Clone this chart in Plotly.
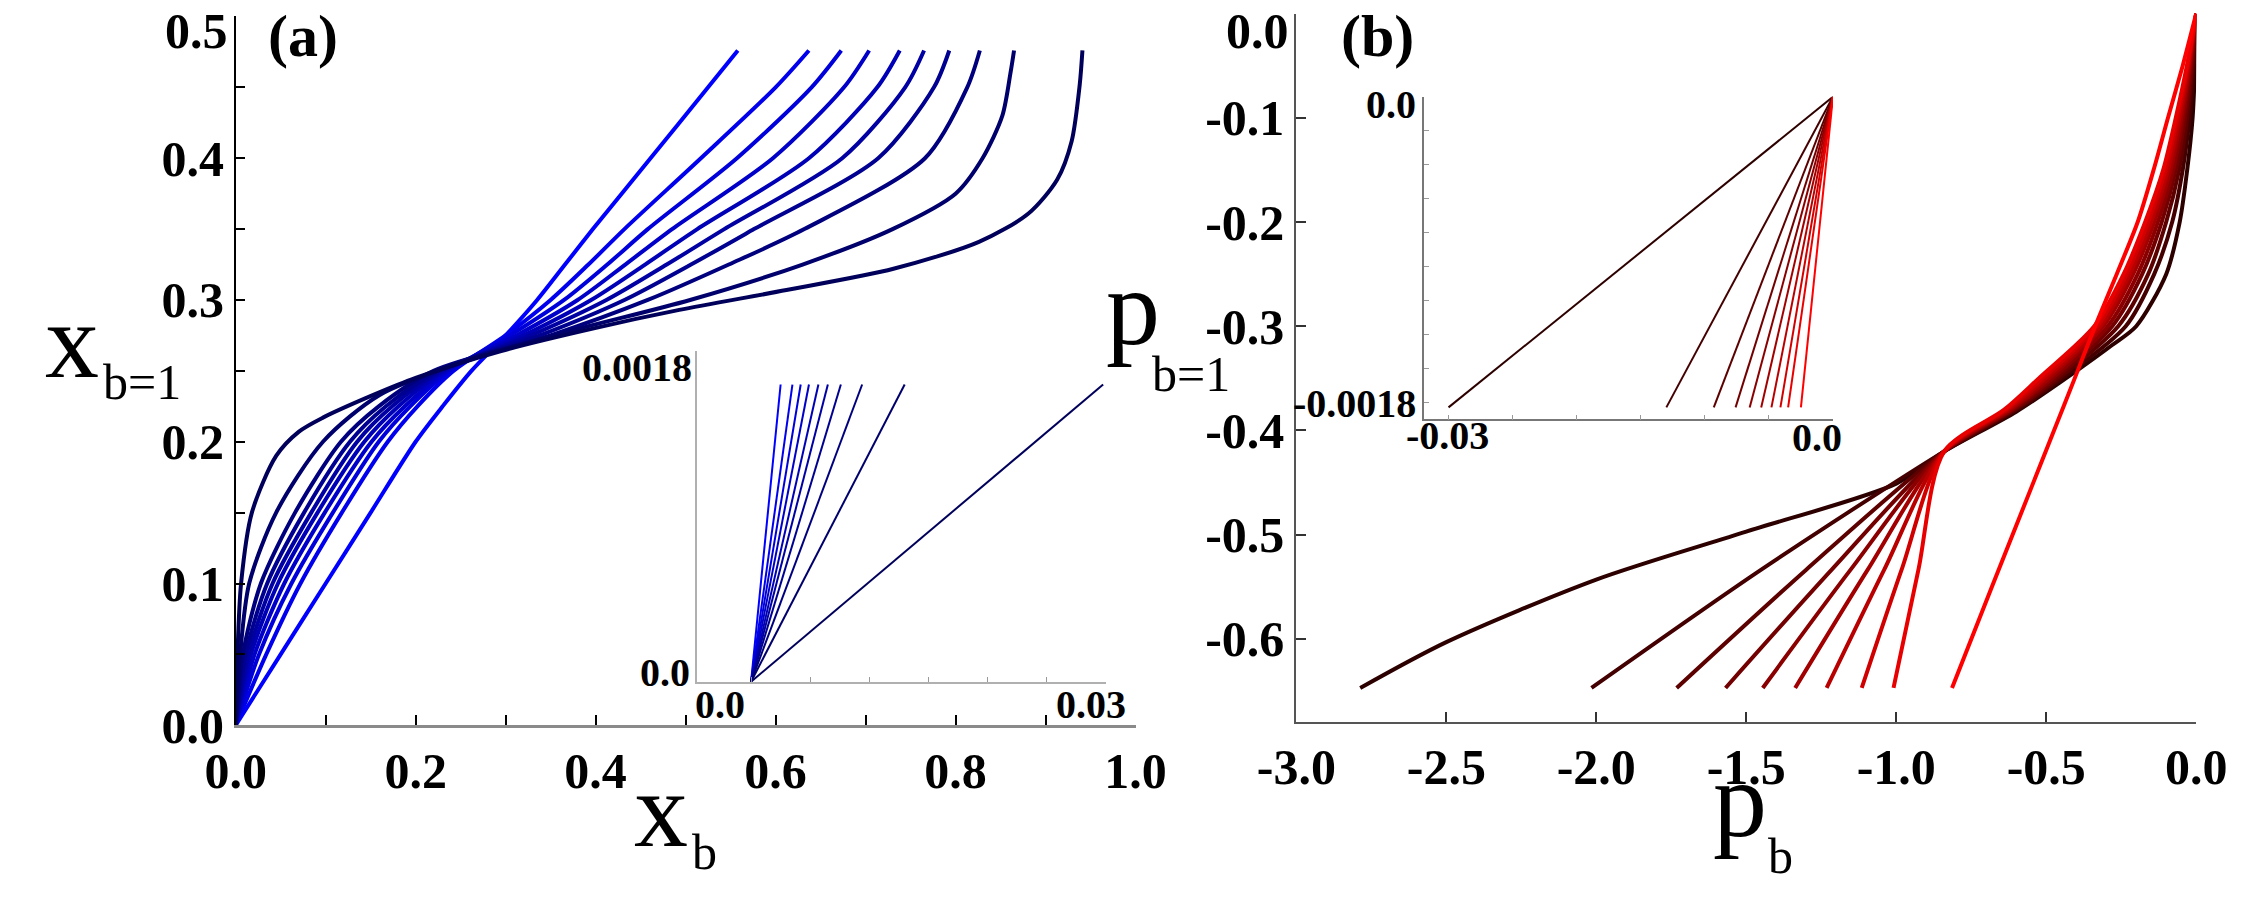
import plotly.graph_objects as go

# ================= DATA =================
# Panel (a): x_{b=1} versus x_b  (k0 = bright blue ... k9 = navy)
a_k0_x = [0, 0.050, 0.100, 0.150, 0.200, 0.230, 0.262, 0.300, 0.335, 0.366, 0.397, 0.461, 0.525, 0.558]
a_k1_x = [0, 0.034, 0.072, 0.118, 0.169, 0.202, 0.242, 0.300, 0.350, 0.392, 0.432, 0.517, 0.600, 0.637]
a_k2_x = [0, 0.026, 0.062, 0.108, 0.159, 0.194, 0.238, 0.305, 0.365, 0.413, 0.458, 0.557, 0.640, 0.673]
a_k3_x = [0, 0.021, 0.054, 0.099, 0.151, 0.188, 0.235, 0.312, 0.380, 0.433, 0.485, 0.597, 0.676, 0.704]
a_k4_x = [0, 0.017, 0.047, 0.091, 0.143, 0.181, 0.232, 0.320, 0.395, 0.455, 0.513, 0.637, 0.713, 0.738]
a_k5_x = [0, 0.014, 0.041, 0.084, 0.135, 0.174, 0.229, 0.328, 0.412, 0.479, 0.543, 0.674, 0.744, 0.765]
a_k6_x = [0, 0.011, 0.035, 0.076, 0.127, 0.167, 0.225, 0.338, 0.432, 0.506, 0.576, 0.714, 0.776, 0.793]
a_k7_x = [0, 0.008, 0.028, 0.066, 0.117, 0.159, 0.220, 0.350, 0.458, 0.548, 0.632, 0.766, 0.813, 0.827]
a_common_y = [0, 0.05, 0.1, 0.15, 0.2, 0.225, 0.25, 0.275, 0.3, 0.325, 0.35, 0.4, 0.45, 0.476]

a_k8_x = [0, 0.005, 0.015, 0.045, 0.097, 0.160, 0.256, 0.365, 0.505, 0.630, 0.730, 0.800, 0.830, 0.852, 0.861, 0.865]
a_k8_y = [0, 0.05, 0.1, 0.15, 0.2, 0.233, 0.257, 0.277, 0.3, 0.325, 0.35, 0.375, 0.4, 0.43, 0.46, 0.476]

a_k9_x = [0, 0.002, 0.006, 0.018, 0.045, 0.070, 0.097, 0.153, 0.200, 0.295, 0.398, 0.493, 0.612, 0.731,
          0.826, 0.881, 0.913, 0.929, 0.938, 0.941]
a_k9_y = [0, 0.05, 0.1, 0.15, 0.19, 0.207, 0.217, 0.233, 0.245, 0.264, 0.280, 0.293, 0.307, 0.322,
          0.341, 0.361, 0.385, 0.412, 0.452, 0.476]

# Inset (a): straight lines from the origin up to y = 0.0018
inset_a_end_x = [0.0025, 0.0035, 0.0042, 0.0049, 0.0057, 0.0065, 0.0076, 0.0094, 0.0130, 0.0298]
inset_a_top_y = 0.0018

# Panel (b): p_{b=1} versus p_b  (j0 = darkest ... j9 = red)
b_j0_x = [-2.787, -2.5, -2.0, -1.5, -1.0, -0.84, -0.6, -0.4, -0.28, -0.2, -0.1, -0.055, -0.03, -0.012, -0.004, 0]
b_j0_y = [-0.647, -0.603, -0.543, -0.497, -0.451, -0.42, -0.382, -0.343, -0.318, -0.3, -0.25, -0.2, -0.15, -0.1, -0.05, 0]
b_j1_x = [-2.016, -1.45, -0.84, -0.596, -0.447, -0.235, -0.140, -0.080, -0.045, -0.022, -0.008, 0]
b_j2_x = [-1.732, -1.30, -0.84, -0.603, -0.458, -0.260, -0.160, -0.100, -0.057, -0.030, -0.012, 0]
b_j3_x = [-1.569, -1.215, -0.84, -0.609, -0.469, -0.280, -0.180, -0.115, -0.068, -0.037, -0.015, 0]
b_j4_x = [-1.445, -1.152, -0.84, -0.615, -0.480, -0.295, -0.195, -0.128, -0.077, -0.044, -0.019, 0]
b_j5_x = [-1.337, -1.095, -0.84, -0.621, -0.491, -0.310, -0.210, -0.140, -0.086, -0.050, -0.022, 0]
b_j6_x = [-1.232, -1.040, -0.84, -0.628, -0.502, -0.320, -0.222, -0.150, -0.094, -0.056, -0.025, 0]
b_j7_x = [-1.115, -0.982, -0.84, -0.634, -0.513, -0.330, -0.232, -0.160, -0.102, -0.062, -0.028, 0]
b_j8_x = [-1.009, -0.926, -0.84, -0.640, -0.525, -0.340, -0.242, -0.170, -0.110, -0.068, -0.031, 0]
b_bundle_y = [-0.647, -0.5335, -0.42, -0.38, -0.35, -0.3, -0.25, -0.2, -0.15, -0.1, -0.05, 0]
b_j9_x = [-0.814, -0.681, -0.543, -0.474, -0.405, -0.337, -0.265, -0.195, -0.142, -0.094, -0.045, 0]
b_j9_y = [-0.647, -0.55, -0.45, -0.4, -0.35, -0.3, -0.25, -0.2, -0.15, -0.1, -0.05, 0]

# Inset (b): straight lines from the origin down to y = -0.00183
inset_b_end_x = [-0.0300, -0.0130, -0.0093, -0.0076, -0.0065, -0.0056, -0.0048, -0.0041, -0.0035, -0.0025]
inset_b_bottom_y = -0.00183

# Tick labels
a_x_ticks = [0, 0.1, 0.2, 0.3, 0.4, 0.5, 0.6, 0.7, 0.8, 0.9, 1.0]
a_x_ticktext = ["0.0", "", "0.2", "", "0.4", "", "0.6", "", "0.8", "", "1.0"]
a_y_ticks = [0, 0.05, 0.1, 0.15, 0.2, 0.25, 0.3, 0.35, 0.4, 0.45, 0.5]
a_y_ticktext = ["0.0", "", "0.1", "", "0.2", "", "0.3", "", "0.4", "", ""]
b_x_ticks = [-3.0, -2.5, -2.0, -1.5, -1.0, -0.5, 0.0]
b_x_ticktext = ["-3.0", "-2.5", "-2.0", "-1.5", "-1.0", "-0.5", "0.0"]
b_y_ticks = [0.0, -0.1, -0.2, -0.3, -0.4, -0.5, -0.6]
b_y_ticktext = ["", "-0.1", "-0.2", "-0.3", "-0.4", "-0.5", "-0.6"]
ia_x_ticks = [0, 0.005, 0.01, 0.015, 0.02, 0.025, 0.03]
ib_x_ticks = [-0.03, -0.025, -0.02, -0.015, -0.01, -0.005, 0]
ib_y_ticks = [0, -0.0002, -0.0004, -0.0006, -0.0008, -0.001, -0.0012, -0.0014, -0.0016, -0.0018]

# ================= STYLE =================
W, H = 2264, 915
FONT = "Liberation Serif"


def blue(k):
    b = round(255 - k * (255 - 90) / 9)
    return f"rgb(0,0,{b})"


def red(j):
    r = round(45 + j * (255 - 45) / 9)
    return f"rgb({r},0,0)"


fig = go.Figure()

a_curves = [(a_k0_x, a_common_y), (a_k1_x, a_common_y), (a_k2_x, a_common_y), (a_k3_x, a_common_y),
            (a_k4_x, a_common_y), (a_k5_x, a_common_y), (a_k6_x, a_common_y), (a_k7_x, a_common_y),
            (a_k8_x, a_k8_y), (a_k9_x, a_k9_y)]
for k, (xs, ys) in enumerate(a_curves):
    fig.add_trace(go.Scatter(x=xs, y=ys, mode="lines", xaxis="x", yaxis="y",
                             line=dict(color=blue(k), width=4, shape="spline", smoothing=0.8),
                             hoverinfo="skip"))

b_curves = [(b_j0_x, b_j0_y), (b_j1_x, b_bundle_y), (b_j2_x, b_bundle_y), (b_j3_x, b_bundle_y),
            (b_j4_x, b_bundle_y), (b_j5_x, b_bundle_y), (b_j6_x, b_bundle_y), (b_j7_x, b_bundle_y),
            (b_j8_x, b_bundle_y), (b_j9_x, b_j9_y)]
for j, (xs, ys) in enumerate(b_curves):
    fig.add_trace(go.Scatter(x=xs, y=ys, mode="lines", xaxis="x3", yaxis="y3",
                             line=dict(color=red(j), width=4, shape="spline", smoothing=0.8),
                             hoverinfo="skip"))

for k, xe in enumerate(inset_a_end_x):
    fig.add_trace(go.Scatter(x=[0, xe], y=[0, inset_a_top_y], mode="lines", xaxis="x2", yaxis="y2",
                             line=dict(color=blue(k), width=2), hoverinfo="skip"))
for j, xe in enumerate(inset_b_end_x):
    fig.add_trace(go.Scatter(x=[0, xe], y=[0, inset_b_bottom_y], mode="lines", xaxis="x4", yaxis="y4",
                             line=dict(color=red(j), width=2), hoverinfo="skip"))


def dx(px):
    return px / W


def dy(py):
    return 1 - py / H


TICK_SIZE = 50
tickfont = dict(family=FONT, size=TICK_SIZE, color="black", weight="bold")
common = dict(showgrid=False, zeroline=False, showline=True, ticks="inside", mirror=False)

fig.update_layout(
    width=W, height=H, margin=dict(l=0, r=0, t=0, b=0),
    paper_bgcolor="white", plot_bgcolor="rgba(0,0,0,0)", showlegend=False,
    xaxis=dict(domain=[dx(202), dx(1131)], range=[0, 1], anchor="y", linecolor="#8a8a8a", linewidth=3,
               tickvals=a_x_ticks, ticktext=a_x_ticktext, ticklen=10, tickwidth=1.5, tickcolor="black",
               tickfont=tickfont, **common),
    yaxis=dict(domain=[dy(749), dy(17)], range=[0, 0.5], anchor="x", linecolor="black", linewidth=1.5,
               tickvals=a_y_ticks, ticktext=a_y_ticktext, ticklen=10, tickwidth=1.5, tickcolor="black",
               tickfont=tickfont, **common),
    xaxis2=dict(domain=[dx(678), dx(1100)], range=[-0.0046, 0.03], anchor="y2", linecolor="#b0b0b0",
                linewidth=1.5, tickvals=ia_x_ticks, ticklen=5, tickwidth=1, tickcolor="#999999",
                showticklabels=False, **common),
    yaxis2=dict(domain=[dy(704), dy(363)], range=[0, 0.002], anchor="x2", linecolor="#b0b0b0",
                linewidth=1.5, showticklabels=False, showgrid=False, zeroline=False, showline=True, ticks=""),
    xaxis3=dict(domain=[dx(1297), dx(2226)], range=[-3, 0], anchor="y3", linecolor="#555555", linewidth=2,
                tickvals=b_x_ticks, ticktext=b_x_ticktext, ticklen=10, tickwidth=1.5, tickcolor="#333333",
                tickfont=tickfont, **common),
    yaxis3=dict(domain=[dy(746), dy(14)], range=[-0.68, 0], anchor="x3", linecolor="#555555", linewidth=2,
                tickvals=b_y_ticks, ticktext=b_y_ticktext, ticklen=10, tickwidth=1.5, tickcolor="#333333",
                tickfont=tickfont, **common),
    xaxis4=dict(domain=[dx(1429), dx(1851)], range=[-0.0319, 0], anchor="y4", linecolor="#777777",
                linewidth=1.5, tickvals=ib_x_ticks, ticklen=5, tickwidth=1, tickcolor="#999999",
                showticklabels=False, **common),
    yaxis4=dict(domain=[dy(433), dy(100)], range=[-0.0019, 0], anchor="x4", linecolor="#777777",
                linewidth=1.5, tickvals=ib_y_ticks, ticklen=5, tickwidth=1, tickcolor="#999999",
                showticklabels=False, **common),
)

annotations = []


def label(text, px, py, size, bold=True, xanchor="center", yanchor="middle"):
    annotations.append(dict(text=text, x=dx(px), y=dy(py), xref="paper", yref="paper",
                            xanchor=xanchor, yanchor=yanchor, showarrow=False,
                            font=dict(family=FONT, size=size, color="black",
                                      weight="bold" if bold else "normal")))


# top tick labels that sit at the edge of the figure
label("0.5", 196, 1, TICK_SIZE, xanchor="right", yanchor="top")
label("0.0", 1291, 1, TICK_SIZE, xanchor="right", yanchor="top")
# panel tags
label("(a)", 272, 1, 60, yanchor="top")
label("(b)", 1381, 1, 60, yanchor="top")
# inset (a) tick labels
label("0.0018", 675, 380, 40, xanchor="right")
label("0.0", 673, 695, 40, xanchor="right")
label("0.0", 702, 728, 40)
label("0.03", 1085, 728, 40)
# inset (b) tick labels
label("0.0", 1423, 108, 40, xanchor="right")
label("-0.0018", 1423, 417, 40, xanchor="right")
label("-0.03", 1453, 450, 40)
label("0.0", 1835, 452, 40)
# axis titles
label("x", 33, 352, 108, bold=False)
label("b=1", 105, 394, 50, bold=False)
label("p", 1128, 318, 108, bold=False)
label("b=1", 1188, 386, 50, bold=False)
label("x", 641, 836, 108, bold=False)
label("b", 686, 880, 50, bold=False)
label("p", 1755, 826, 108, bold=False)
label("b", 1797, 884, 50, bold=False)

fig.update_layout(annotations=annotations)
fig.write_html("out.html")
